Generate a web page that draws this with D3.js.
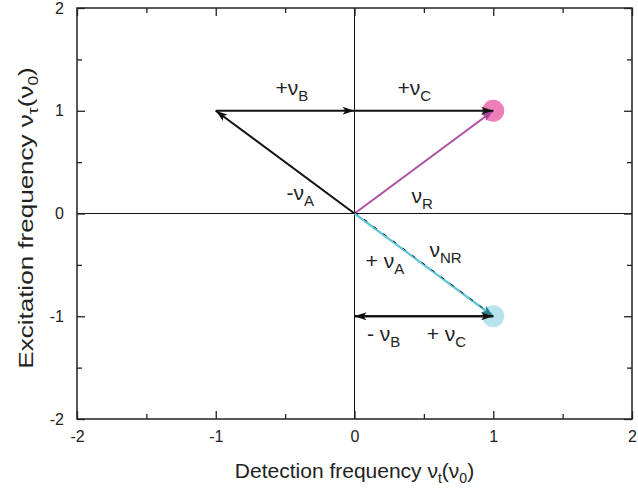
<!DOCTYPE html>
<html>
<head>
<meta charset="utf-8">
<script src="https://cdn.jsdelivr.net/npm/d3@7"></script>
<style>
  body { margin: 0; background: #fff; }
  text { font-family: "Liberation Sans", Arial, sans-serif; fill: #222; }
</style>
</head>
<body>
<svg id="chart" width="638" height="494"></svg>
<script>
// axis ticks
var majorTicks = [-2, -1, 0, 1, 2];
var minorTicks = [-1.5, -0.5, 0.5, 1.5];

// vectors: [x0, y0, x1, y1]
var blackArrows = [[0, 0, -1, 1], [-1, 1, 0, 1], [0, 1, 1, 1], [1, -1, 0, -1], [0, -1, 1, -1]];
var rLine = [0, 0, 1, 1];
var nrLine = [0, 0, 1, -1];
var circles = [[1, 1, "#ee7fb8"], [1, -1, "#b8e3ed"]];

// labels: [x, y, main, sub]
var labels = [
  [-0.57, 1.15, "+ν", "B"],
  [0.31, 1.15, "+ν", "C"],
  [-0.49, 0.13, "-ν", "A"],
  [0.41, 0.10, "ν", "R"],
  [0.08, -0.53, "+ ν", "A"],
  [0.54, -0.42, "ν", "NR"],
  [0.09, -1.24, "- ν", "B"],
  [0.52, -1.24, "+ ν", "C"]
];

var svg = d3.select("#chart");
var x = d3.scaleLinear().domain([-2, 2]).range([77, 632]);
var y = d3.scaleLinear().domain([-2, 2]).range([419, 8]);

var defs = svg.append("defs");
function marker(id, color) {
  defs.append("marker").attr("id", id)
    .attr("viewBox", "0 0 12 8").attr("refX", 12).attr("refY", 4)
    .attr("markerWidth", 12).attr("markerHeight", 8)
    .attr("markerUnits", "userSpaceOnUse").attr("orient", "auto")
    .append("path").attr("d", "M0,0 L12,4 L0,8 L3,4 Z").attr("fill", color);
}
marker("ab", "#111");
marker("am", "#a8479a");
marker("ac", "#2a7f94");

// circles
svg.selectAll("circle.spot").data(circles).enter().append("circle")
  .attr("class", "spot")
  .attr("cx", function(d){ return x(d[0]); })
  .attr("cy", function(d){ return y(d[1]); })
  .attr("r", 11)
  .attr("fill", function(d){ return d[2]; });

// zero lines
svg.append("line").attr("x1", x(-2)).attr("x2", x(2)).attr("y1", y(0)).attr("y2", y(0))
  .attr("stroke", "#111").attr("stroke-width", 1);
svg.append("line").attr("x1", x(0)).attr("x2", x(0)).attr("y1", y(-2)).attr("y2", y(2))
  .attr("stroke", "#111").attr("stroke-width", 1);

// frame + ticks
var fmt = function(d){ return String(d); };
var g = svg.append("g");
g.append("rect").attr("x", x(-2)).attr("y", y(2)).attr("width", x(2) - x(-2)).attr("height", y(-2) - y(2))
  .attr("fill", "none").attr("stroke", "#222").attr("stroke-width", 1.5);
g.append("g").attr("transform", "translate(0," + y(-2) + ")")
  .call(d3.axisBottom(x).tickValues(majorTicks).tickSize(-8).tickPadding(12).tickFormat(fmt));
g.append("g").attr("transform", "translate(0," + y(-2) + ")")
  .call(d3.axisBottom(x).tickValues(minorTicks).tickSize(-5).tickFormat(""));
g.append("g").attr("transform", "translate(0," + y(2) + ")")
  .call(d3.axisTop(x).tickValues(majorTicks).tickSize(-8).tickFormat(""));
g.append("g").attr("transform", "translate(0," + y(2) + ")")
  .call(d3.axisTop(x).tickValues(minorTicks).tickSize(-5).tickFormat(""));
g.append("g").attr("transform", "translate(" + x(-2) + ",0)")
  .call(d3.axisLeft(y).tickValues(majorTicks).tickSize(-8).tickPadding(13).tickFormat(fmt));
g.append("g").attr("transform", "translate(" + x(-2) + ",0)")
  .call(d3.axisLeft(y).tickValues(minorTicks).tickSize(-5).tickFormat(""));
g.append("g").attr("transform", "translate(" + x(2) + ",0)")
  .call(d3.axisRight(y).tickValues(majorTicks).tickSize(-8).tickFormat(""));
g.append("g").attr("transform", "translate(" + x(2) + ",0)")
  .call(d3.axisRight(y).tickValues(minorTicks).tickSize(-5).tickFormat(""));
g.selectAll(".domain").remove();
g.selectAll(".tick line").attr("stroke", "#222").attr("stroke-width", 1.3);
g.selectAll(".tick text").attr("font-size", 16).attr("fill", "#222")
  .attr("font-family", "Liberation Sans, Arial, sans-serif");

// lines
svg.append("line").attr("x1", x(rLine[0])).attr("y1", y(rLine[1])).attr("x2", x(rLine[2])).attr("y2", y(rLine[3]))
  .attr("stroke", "#b04ea4").attr("stroke-width", 2).attr("marker-end", "url(#am)");
svg.append("line").attr("x1", x(nrLine[0])).attr("y1", y(nrLine[1])).attr("x2", x(nrLine[2])).attr("y2", y(nrLine[3]))
  .attr("stroke", "#5ec6da").attr("stroke-width", 2.2).attr("marker-end", "url(#ac)");
svg.append("line").attr("x1", x(nrLine[0])).attr("y1", y(nrLine[1]) - 1.5).attr("x2", x(nrLine[2]) - 6).attr("y2", y(nrLine[3]) - 5)
  .attr("stroke", "#222").attr("stroke-width", 1).attr("stroke-dasharray", "4,8");

svg.selectAll("line.vec").data(blackArrows).enter().append("line")
  .attr("class", "vec")
  .attr("x1", function(d){ return x(d[0]); })
  .attr("y1", function(d){ return y(d[1]); })
  .attr("x2", function(d){ return x(d[2]); })
  .attr("y2", function(d){ return y(d[3]); })
  .attr("stroke", "#111").attr("stroke-width", 2)
  .attr("marker-end", "url(#ab)");

// labels
var lt = svg.selectAll("text.lab").data(labels).enter().append("text")
  .attr("class", "lab")
  .attr("x", function(d){ return x(d[0]); })
  .attr("y", function(d){ return y(d[1]); })
  .attr("font-size", 21);
lt.append("tspan").text(function(d){ return d[2]; });
lt.append("tspan").attr("dy", 6).attr("font-size", 15).text(function(d){ return d[3]; });

// axis titles
var xt = svg.append("text").attr("x", x(0)).attr("y", 478).attr("text-anchor", "middle").attr("font-size", 21);
xt.append("tspan").text("Detection frequency ν");
xt.append("tspan").attr("dy", 5).attr("font-size", 14).text("t");
xt.append("tspan").attr("dy", -5).text("(ν");
xt.append("tspan").attr("dy", 5).attr("font-size", 14).text("0");
xt.append("tspan").attr("dy", -5).text(")");

var yt = svg.append("text").attr("transform", "translate(33,218) rotate(-90) scale(1.24,1)")
  .attr("text-anchor", "middle").attr("font-size", 21);
yt.append("tspan").text("Excitation frequency ν");
yt.append("tspan").attr("dy", 5).attr("font-size", 14).text("τ");
yt.append("tspan").attr("dy", -5).text("(ν");
yt.append("tspan").attr("dy", 5).attr("font-size", 14).text("0");
yt.append("tspan").attr("dy", -5).text(")");
</script>
</body>
</html>
